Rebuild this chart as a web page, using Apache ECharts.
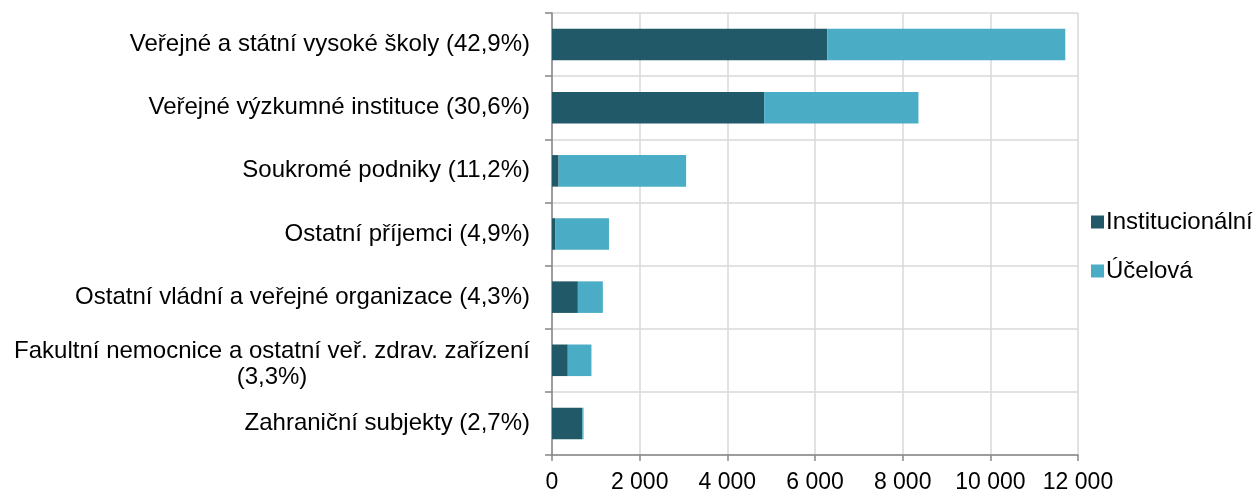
<!DOCTYPE html>
<html><head><meta charset="utf-8">
<script src="https://cdn.jsdelivr.net/npm/echarts@6/dist/echarts.min.js"></script>
<style>html,body{margin:0;padding:0;background:#fff}#c{width:1255px;height:494px}</style>
</head><body><div id="c"></div>
<script>
const categories = [
  'Veřejné a státní vysoké školy (42,9%)',
  'Veřejné výzkumné instituce (30,6%)',
  'Soukromé podniky (11,2%)',
  'Ostatní příjemci (4,9%)',
  'Ostatní vládní a veřejné organizace (4,3%)',
  'Fakultní nemocnice a ostatní veř. zdrav. zařízení\n(3,3%)',
  'Zahraniční subjekty (2,7%)'
];
const institucionalni = [6280, 4840, 150, 80, 590, 360, 690];
const ucelova = [5430, 3520, 2910, 1220, 570, 540, 30];
const seriesNames = ['Institucionální', 'Účelová'];
const xTicks = {min: 0, max: 12000, interval: 2000};

const FONT = '"Liberation Sans", Arial, sans-serif';
const FS = 24;
const FSX = 23;
const ctx = document.createElement('canvas').getContext('2d');
ctx.font = FS + 'px ' + FONT;
const W1 = Math.ceil(ctx.measureText('Fakultní nemocnice a ostatní veř. zdrav. zařízení').width);

const chart = echarts.init(document.getElementById('c'), null, {renderer: 'canvas'});
chart.setOption({
  animation: false,
  grid: {left: 552, right: 177, top: 13, bottom: 37, containLabel: false},
  legend: {
    orient: 'vertical', left: 1086, top: 205, itemWidth: 13, itemHeight: 13, itemGap: 25,
    icon: 'rect',
    textStyle: {fontFamily: FONT, fontSize: FS, color: '#000', padding: [0, 0, 0, -3]},
    data: seriesNames
  },
  xAxis: {
    type: 'value', min: xTicks.min, max: xTicks.max, interval: xTicks.interval,
    axisLine: {show: true, lineStyle: {color: '#868686', width: 1.5}},
    axisTick: {show: true, length: 6, lineStyle: {color: '#868686', width: 1.5}},
    splitLine: {show: true, lineStyle: {color: '#d9d9d9', width: 1.5}},
    axisLabel: {fontFamily: FONT, fontSize: FSX, color: '#000', margin: 16,
      formatter: v => v === 0 ? '0' : String(v).replace(/\B(?=(\d{3})+(?!\d))/g, ' ')}
  },
  yAxis: {
    type: 'category', inverse: true, data: categories,
    axisLine: {show: true, lineStyle: {color: '#868686', width: 1.5}},
    axisTick: {show: true, length: 7, lineStyle: {color: '#868686', width: 1.5}},
    splitLine: {show: true, lineStyle: {color: '#d9d9d9', width: 1.5}},
    axisLabel: {
      fontFamily: FONT, fontSize: FS, color: '#000', margin: 22, lineHeight: 27,
      formatter: function (v) {
        const lines = v.split('\n');
        if (lines.length === 1) return v;
        return lines.map((l, i) => '{' + (i === 0 ? 'a' : 'c') + '|' + l + '}').join('\n');
      },
      rich: {
        a: {fontFamily: FONT, fontSize: FS, color: '#000', lineHeight: 35, width: W1, align: 'center', verticalAlign: 'bottom'},
        c: {fontFamily: FONT, fontSize: FS, color: '#000', lineHeight: 29, width: W1, align: 'center'}
      }
    }
  },
  series: [
    {name: seriesNames[0], type: 'bar', stack: 't', data: institucionalni, barWidth: '50%',
      itemStyle: {color: '#215968'}},
    {name: seriesNames[1], type: 'bar', stack: 't', data: ucelova, barWidth: '50%',
      itemStyle: {color: '#4bacc6'}}
  ]
});
</script></body></html>
